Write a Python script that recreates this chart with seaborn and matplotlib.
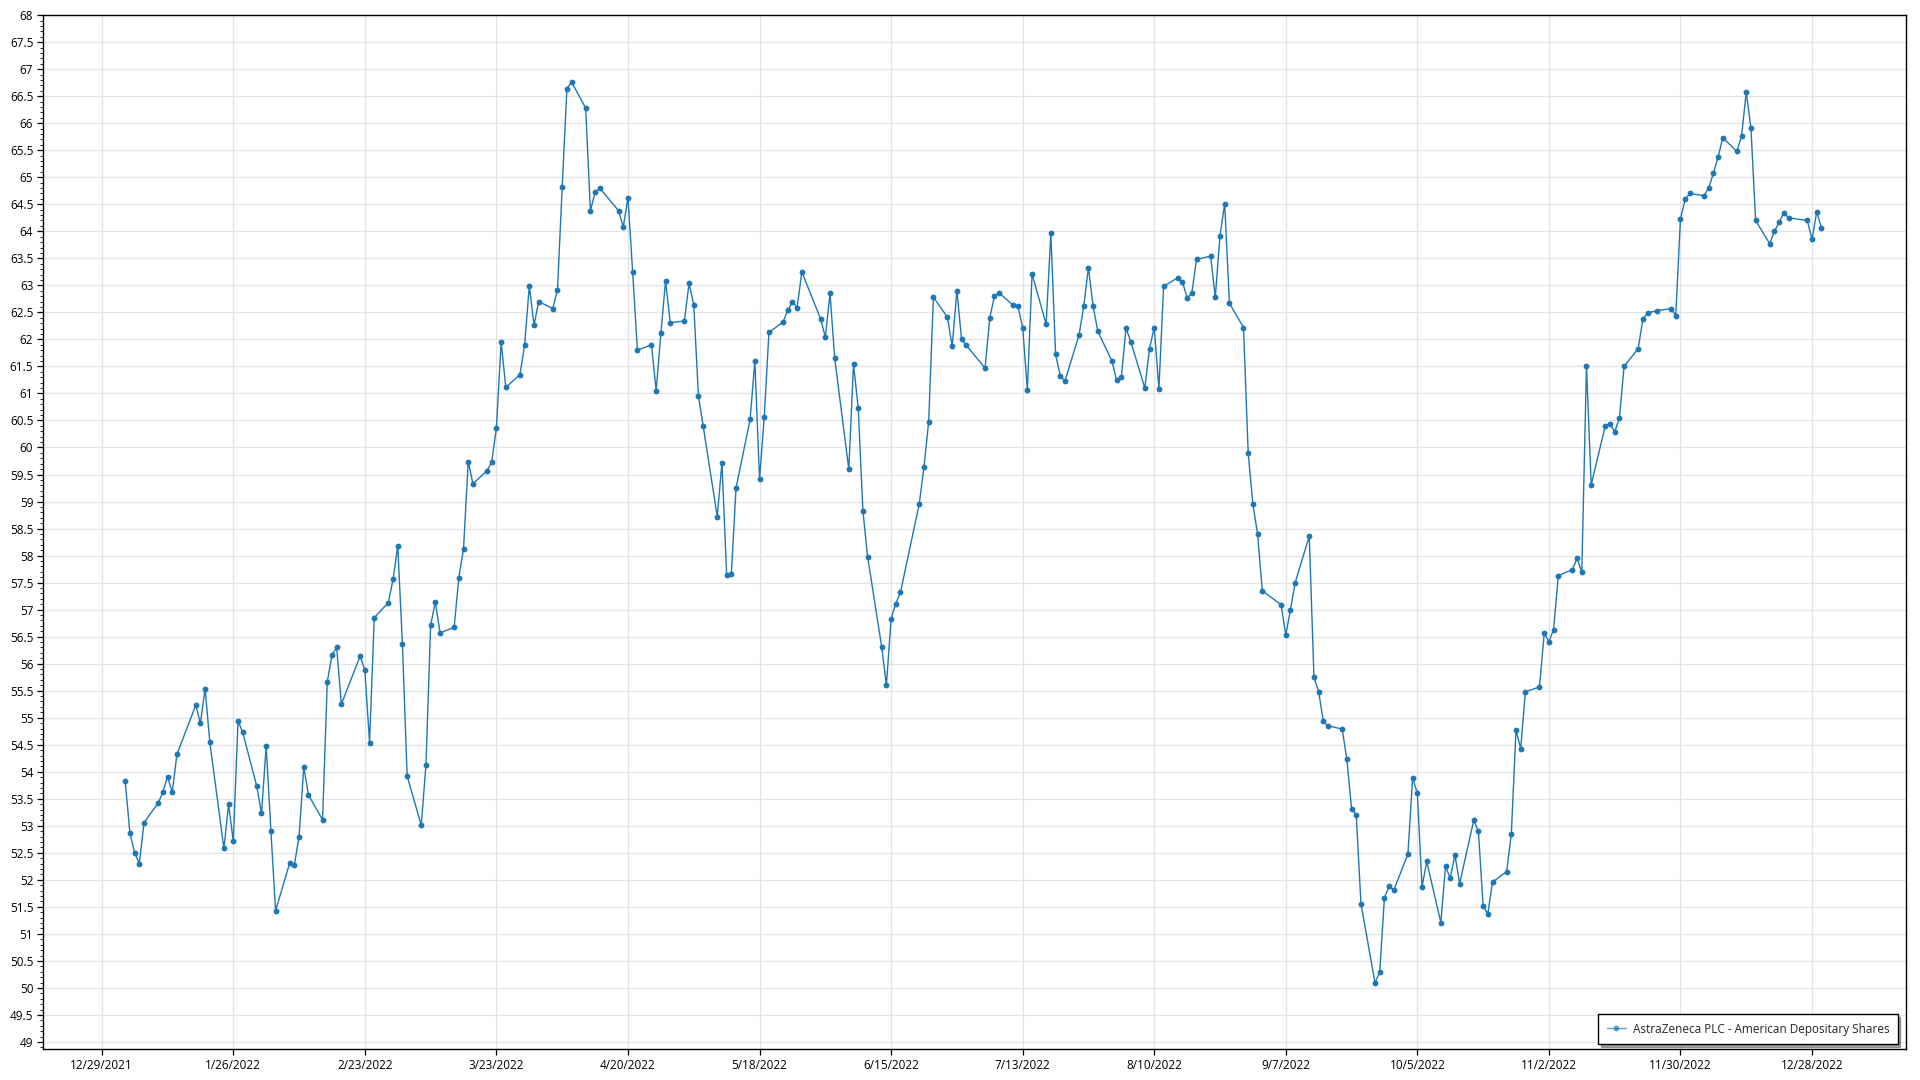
import matplotlib
matplotlib.use("Agg")

import matplotlib.pyplot as plt
import matplotlib.dates as mdates
import numpy as np
import pandas as pd
import seaborn as sns
from matplotlib.ticker import FixedLocator, MultipleLocator


SERIES_NAME = "AstraZeneca PLC - American Depositary Shares"

# trading days of 2022
dates = [
    "2022-01-03", "2022-01-04", "2022-01-05", "2022-01-06", "2022-01-07",
    "2022-01-10", "2022-01-11", "2022-01-12", "2022-01-13", "2022-01-14",
    "2022-01-18", "2022-01-19", "2022-01-20", "2022-01-21",
    "2022-01-24", "2022-01-25", "2022-01-26", "2022-01-27", "2022-01-28",
    "2022-01-31", "2022-02-01", "2022-02-02", "2022-02-03", "2022-02-04",
    "2022-02-07", "2022-02-08", "2022-02-09", "2022-02-10", "2022-02-11",
    "2022-02-14", "2022-02-15", "2022-02-16", "2022-02-17", "2022-02-18",
    "2022-02-22", "2022-02-23", "2022-02-24", "2022-02-25",
    "2022-02-28", "2022-03-01", "2022-03-02", "2022-03-03", "2022-03-04",
    "2022-03-07", "2022-03-08", "2022-03-09", "2022-03-10", "2022-03-11",
    "2022-03-14", "2022-03-15", "2022-03-16", "2022-03-17", "2022-03-18",
    "2022-03-21", "2022-03-22", "2022-03-23", "2022-03-24", "2022-03-25",
    "2022-03-28", "2022-03-29", "2022-03-30", "2022-03-31", "2022-04-01",
    "2022-04-04", "2022-04-05", "2022-04-06", "2022-04-07", "2022-04-08",
    "2022-04-11", "2022-04-12", "2022-04-13", "2022-04-14",
    "2022-04-18", "2022-04-19", "2022-04-20", "2022-04-21", "2022-04-22",
    "2022-04-25", "2022-04-26", "2022-04-27", "2022-04-28", "2022-04-29",
    "2022-05-02", "2022-05-03", "2022-05-04", "2022-05-05", "2022-05-06",
    "2022-05-09", "2022-05-10", "2022-05-11", "2022-05-12", "2022-05-13",
    "2022-05-16", "2022-05-17", "2022-05-18", "2022-05-19", "2022-05-20",
    "2022-05-23", "2022-05-24", "2022-05-25", "2022-05-26", "2022-05-27",
    "2022-05-31", "2022-06-01", "2022-06-02", "2022-06-03",
    "2022-06-06", "2022-06-07", "2022-06-08", "2022-06-09", "2022-06-10",
    "2022-06-13", "2022-06-14", "2022-06-15", "2022-06-16", "2022-06-17",
    "2022-06-21", "2022-06-22", "2022-06-23", "2022-06-24",
    "2022-06-27", "2022-06-28", "2022-06-29", "2022-06-30", "2022-07-01",
    "2022-07-05", "2022-07-06", "2022-07-07", "2022-07-08",
    "2022-07-11", "2022-07-12", "2022-07-13", "2022-07-14", "2022-07-15",
    "2022-07-18", "2022-07-19", "2022-07-20", "2022-07-21", "2022-07-22",
    "2022-07-25", "2022-07-26", "2022-07-27", "2022-07-28", "2022-07-29",
    "2022-08-01", "2022-08-02", "2022-08-03", "2022-08-04", "2022-08-05",
    "2022-08-08", "2022-08-09", "2022-08-10", "2022-08-11", "2022-08-12",
    "2022-08-15", "2022-08-16", "2022-08-17", "2022-08-18", "2022-08-19",
    "2022-08-22", "2022-08-23", "2022-08-24", "2022-08-25", "2022-08-26",
    "2022-08-29", "2022-08-30", "2022-08-31", "2022-09-01", "2022-09-02",
    "2022-09-06", "2022-09-07", "2022-09-08", "2022-09-09",
    "2022-09-12", "2022-09-13", "2022-09-14", "2022-09-15", "2022-09-16",
    "2022-09-19", "2022-09-20", "2022-09-21", "2022-09-22", "2022-09-23",
    "2022-09-26", "2022-09-27", "2022-09-28", "2022-09-29", "2022-09-30",
    "2022-10-03", "2022-10-04", "2022-10-05", "2022-10-06", "2022-10-07",
    "2022-10-10", "2022-10-11", "2022-10-12", "2022-10-13", "2022-10-14",
    "2022-10-17", "2022-10-18", "2022-10-19", "2022-10-20", "2022-10-21",
    "2022-10-24", "2022-10-25", "2022-10-26", "2022-10-27", "2022-10-28",
    "2022-10-31", "2022-11-01", "2022-11-02", "2022-11-03", "2022-11-04",
    "2022-11-07", "2022-11-08", "2022-11-09", "2022-11-10", "2022-11-11",
    "2022-11-14", "2022-11-15", "2022-11-16", "2022-11-17", "2022-11-18",
    "2022-11-21", "2022-11-22", "2022-11-23", "2022-11-25",
    "2022-11-28", "2022-11-29", "2022-11-30", "2022-12-01", "2022-12-02",
    "2022-12-05", "2022-12-06", "2022-12-07", "2022-12-08", "2022-12-09",
    "2022-12-12", "2022-12-13", "2022-12-14", "2022-12-15", "2022-12-16",
    "2022-12-19", "2022-12-20", "2022-12-21", "2022-12-22", "2022-12-23",
    "2022-12-27", "2022-12-28", "2022-12-29", "2022-12-30",
]

prices = [
    53.82, 52.86, 52.50, 52.30, 53.06,
    53.42, 53.62, 53.91, 53.62, 54.32,
    55.23, 54.90, 55.54, 54.55,
    52.58, 53.40, 52.71, 54.94, 54.73,
    53.73, 53.23, 54.47, 52.91, 51.43,
    52.31, 52.28, 52.80, 54.09, 53.57,
    53.11, 55.66, 56.16, 56.30, 55.25,
    56.14, 55.88, 54.54, 56.85,
    57.13, 57.56, 58.18, 56.36, 53.92,
    53.01, 54.12, 56.71, 57.14, 56.57,
    56.67, 57.59, 58.13, 59.74, 59.33,
    59.57, 59.73, 60.36, 61.95, 61.11,
    61.35, 61.89, 62.99, 62.26, 62.70,
    62.57, 62.92, 64.82, 66.64, 66.76,
    66.28, 64.38, 64.72, 64.80,
    64.38, 64.08, 64.62, 63.24, 61.80,
    61.90, 61.05, 62.11, 63.08, 62.31,
    62.34, 63.04, 62.64, 60.95, 60.40,
    58.72, 59.72, 57.64, 57.66, 59.25,
    60.52, 61.60, 59.41, 60.56, 62.13,
    62.32, 62.54, 62.69, 62.59, 63.25,
    62.38, 62.04, 62.85, 61.65,
    59.60, 61.54, 60.73, 58.83, 57.98,
    56.31, 55.60, 56.83, 57.11, 57.32,
    58.96, 59.64, 60.48, 62.78,
    62.41, 61.87, 62.90, 62.00, 61.89,
    61.47, 62.40, 62.80, 62.86,
    62.63, 62.61, 62.22, 61.07, 63.21,
    62.28, 63.96, 61.73, 61.33, 61.23,
    62.08, 62.61, 63.33, 62.61, 62.15,
    61.60, 61.24, 61.30, 62.21, 61.96,
    61.10, 61.83, 62.22, 61.09, 62.98,
    63.14, 63.07, 62.77, 62.85, 63.48,
    63.54, 62.78, 63.92, 64.51, 62.67,
    62.22, 59.90, 58.95, 58.40, 57.35,
    57.09, 56.53, 57.00, 57.50,
    58.36, 55.75, 55.48, 54.93, 54.85,
    54.79, 54.23, 53.32, 53.20, 51.56,
    50.09, 50.30, 51.67, 51.88, 51.81,
    52.48, 53.89, 53.60, 51.87, 52.34,
    51.21, 52.25, 52.03, 52.46, 51.93,
    53.10, 52.90, 51.52, 51.37, 51.96,
    52.15, 52.84, 54.77, 54.43, 55.48,
    55.57, 56.56, 56.41, 56.63, 57.63,
    57.74, 57.95, 57.69, 61.51, 59.31,
    60.40, 60.44, 60.29, 60.54, 61.50,
    61.83, 62.37, 62.49, 62.53,
    62.57, 62.44, 64.23, 64.59, 64.70,
    64.66, 64.80, 65.07, 65.37, 65.73,
    65.48, 65.76, 66.57, 65.91, 64.20,
    63.77, 64.00, 64.17, 64.34, 64.25,
    64.20, 63.85, 64.36, 64.07,
]

# x axis tick dates (every 4 weeks)
x_ticks = pd.date_range("2021-12-29", "2022-12-28", freq="28D")

LINE_COLOR = "#1f77b4"
GRID_COLOR = "#e3e3e3"


def main():
    sns.set_style("whitegrid")
    plt.rcParams["font.family"] = ["Open Sans", "DejaVu Sans"]

    df = pd.DataFrame({"date": pd.to_datetime(dates), "price": prices})

    fig = plt.figure(figsize=(19.2, 10.8), dpi=100)
    ax = fig.add_axes([0.0224, 0.0287, 0.9703, 0.9573])

    sns.lineplot(
        data=df, x="date", y="price", ax=ax,
        color=LINE_COLOR, linewidth=1.0,
        marker="o", markersize=4.2, markeredgewidth=0,
        label=SERIES_NAME,
    )

    ax.set_xlim(pd.Timestamp("2021-12-16 12:00"), pd.Timestamp("2023-01-17"))
    ax.set_ylim(48.87, 68)

    ax.xaxis.set_major_locator(FixedLocator(mdates.date2num(x_ticks)))
    ax.set_xticklabels([f"{d.month}/{d.day}/{d.year}" for d in x_ticks])
    ax.yaxis.set_major_locator(MultipleLocator(0.5))
    ax.yaxis.set_minor_locator(MultipleLocator(0.1))
    ax.yaxis.set_major_formatter(plt.FuncFormatter(lambda v, _: f"{v:g}"))

    ax.grid(True, which="major", color=GRID_COLOR, linewidth=0.9)
    ax.grid(False, which="minor")
    ax.tick_params(axis="both", which="major", labelsize=8.5, colors="black",
                   length=4, width=0.9, direction="out", pad=3)
    ax.tick_params(axis="y", which="minor", length=2, width=0.7,
                   direction="out", left=True)
    ax.tick_params(axis="x", which="major", bottom=True)
    ax.tick_params(axis="y", which="major", left=True)
    ax.set_xlabel("")
    ax.set_ylabel("")

    for side in ["left", "right", "top", "bottom"]:
        ax.spines[side].set_visible(True)
        ax.spines[side].set_color("black")
        ax.spines[side].set_linewidth(1.0)

    leg = ax.legend(loc="lower right", fontsize=8.5, frameon=True,
                    fancybox=False, shadow=True, borderpad=0.7,
                    handlelength=1.6, handletextpad=0.6, borderaxespad=0,
                    bbox_to_anchor=(0.9955, 0.005))
    leg.get_frame().set_edgecolor("black")
    leg.get_frame().set_linewidth(1.0)
    for h in leg.legend_handles:
        h.set_alpha(0.7)

    fig.savefig("out.png", dpi=100)
    plt.close(fig)


if __name__ == "__main__":
    main()
